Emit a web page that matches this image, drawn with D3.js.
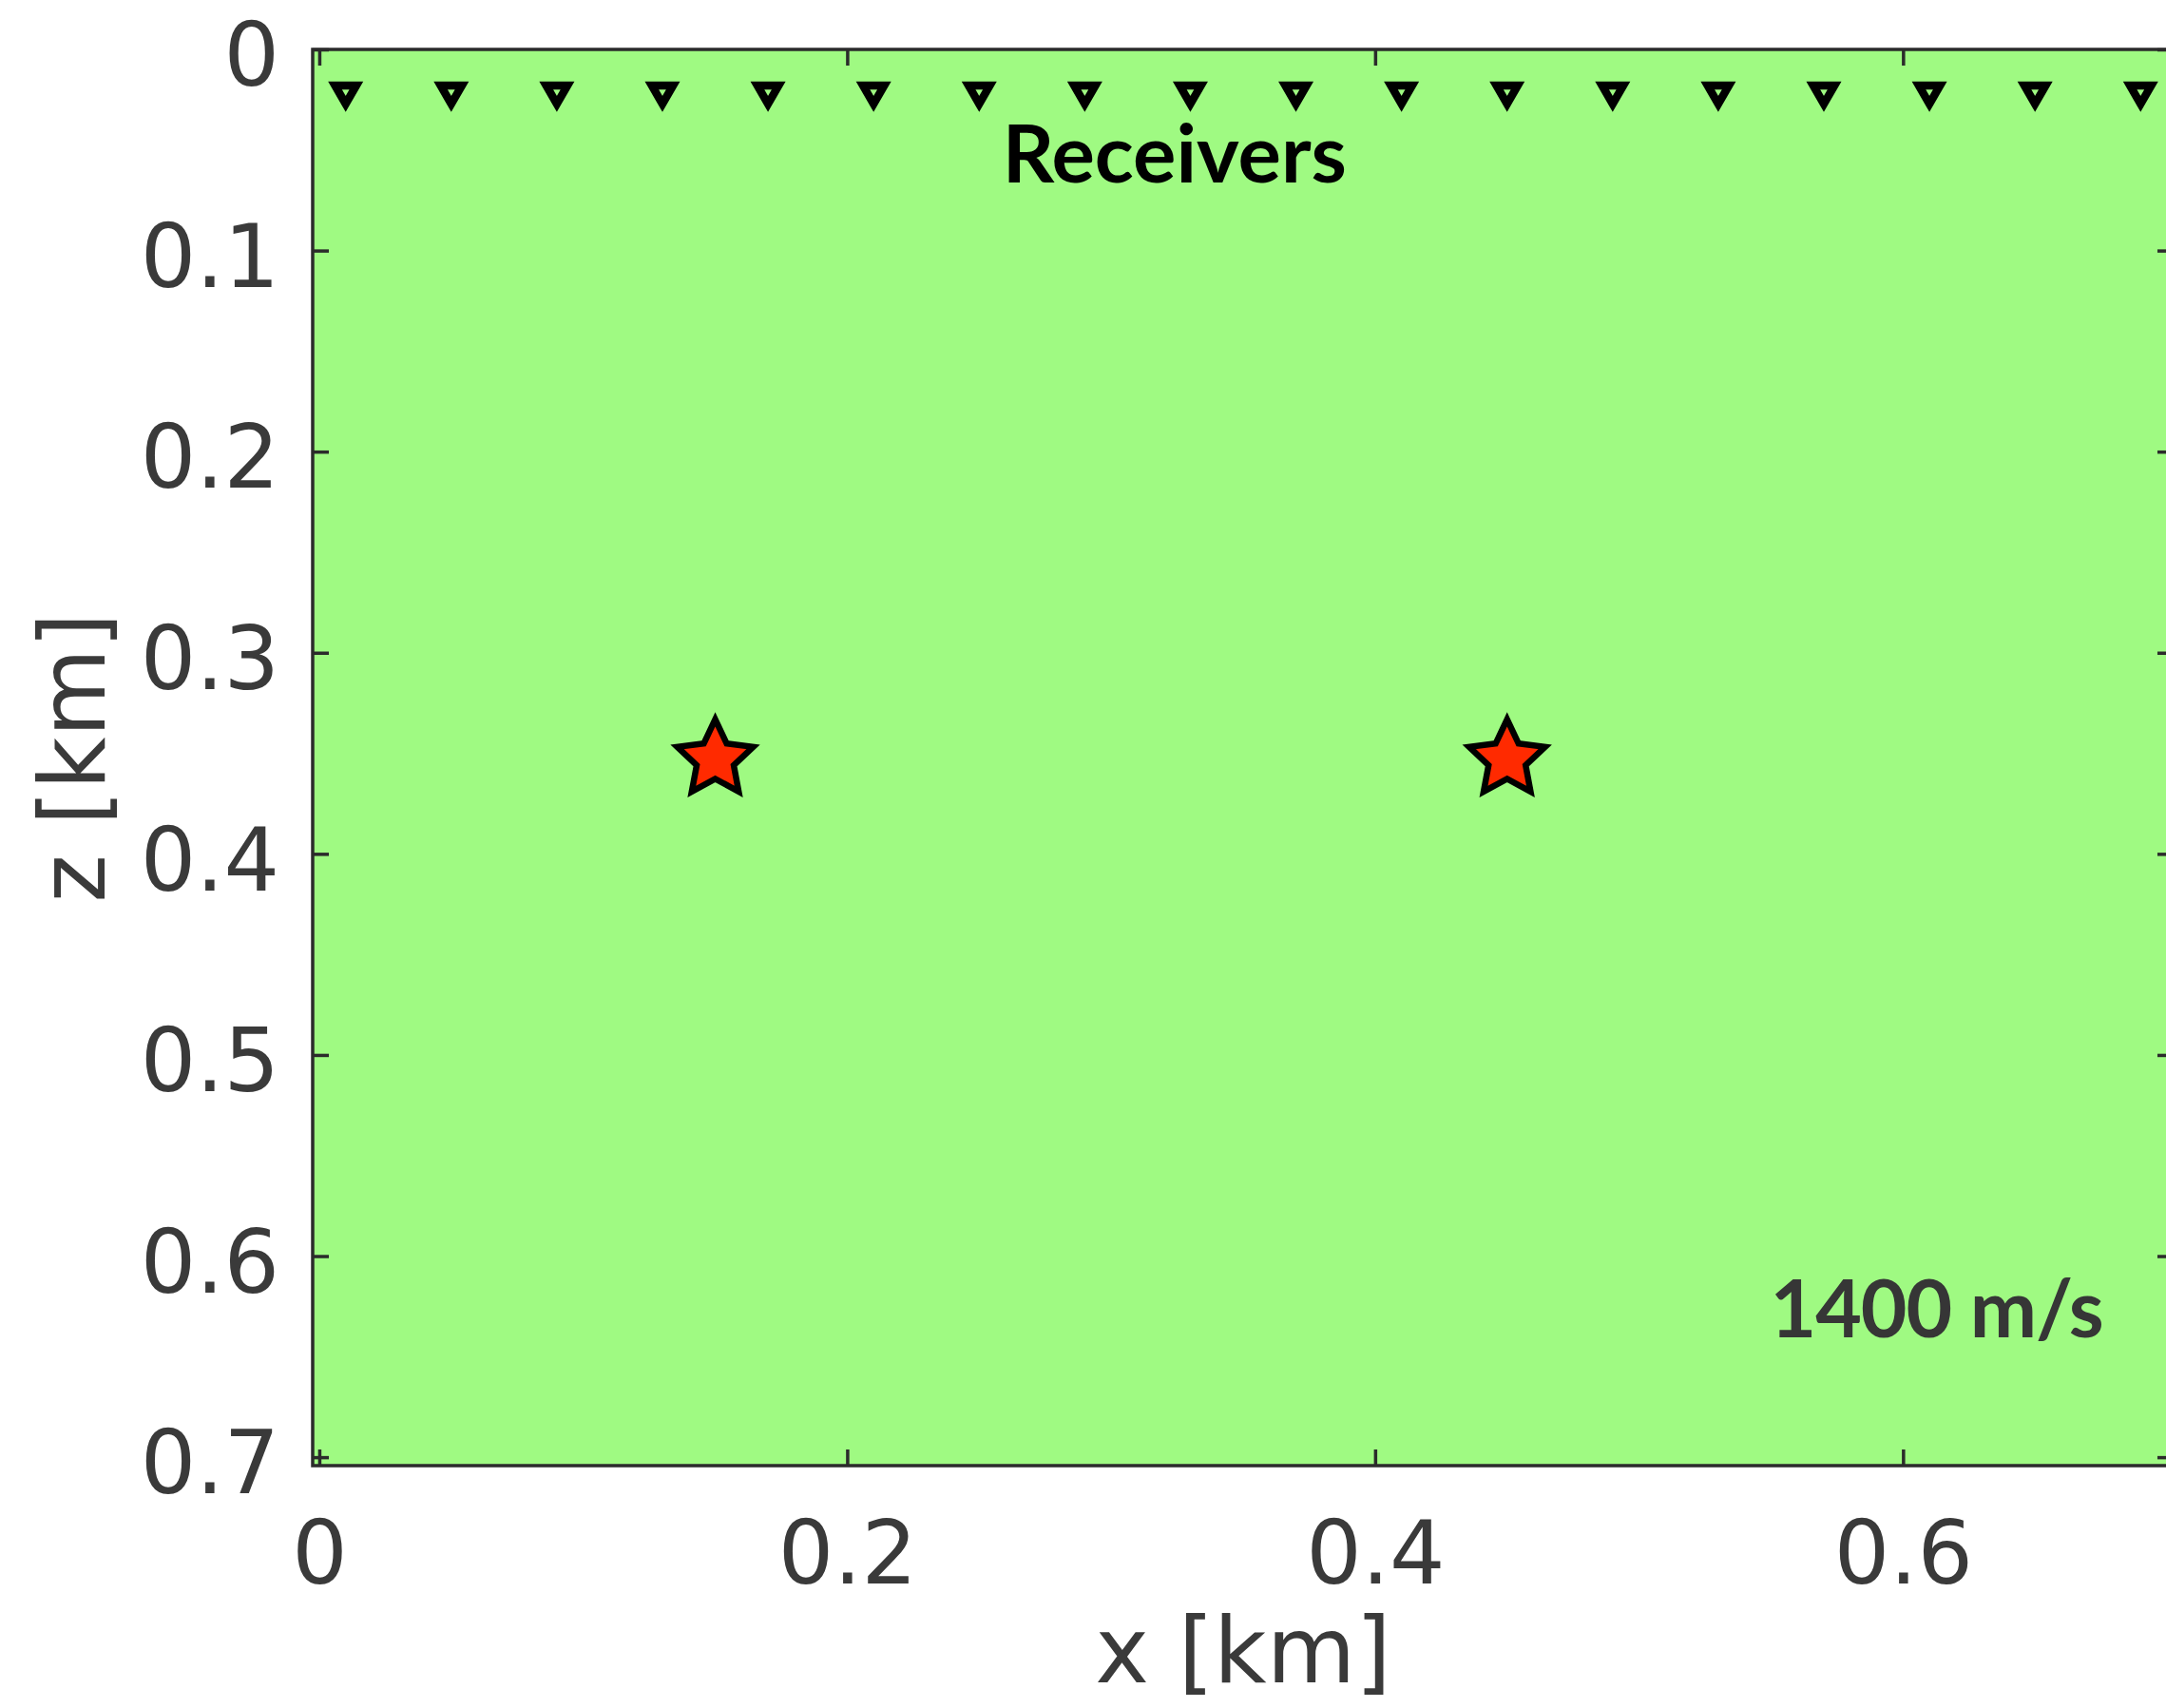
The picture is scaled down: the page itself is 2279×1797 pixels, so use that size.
<!DOCTYPE html>
<html>
<head>
<meta charset="utf-8">
<script src="https://cdn.jsdelivr.net/npm/d3@7"></script>
<style>
  html, body { margin: 0; padding: 0; background: #ffffff; }
  svg { display: block; }
</style>
</head>
<body>
<svg id="chart" width="2279" height="1797"></svg>
<script>
// Homogeneous velocity model: extent of the grid (km, cell-edge aligned)
const xExtent = [-0.0025, 0.7025];
const zExtent = [0, 0.7042];

// Axis ticks
const xTickValues = [0, 0.2, 0.4, 0.6];
const xTickLabels = ["0", "0.2", "0.4", "0.6"];
const zTickValues = [0, 0.1, 0.2, 0.3, 0.4, 0.5, 0.6, 0.7];
const zTickLabels = ["0", "0.1", "0.2", "0.3", "0.4", "0.5", "0.6", "0.7"];

// Receiver line near the surface (km)
const receiverX = [0.01, 0.05, 0.09, 0.13, 0.17, 0.21, 0.25, 0.29, 0.33,
                   0.37, 0.41, 0.45, 0.49, 0.53, 0.57, 0.61, 0.65, 0.69];
const receiverZ = [0.021, 0.021, 0.021, 0.021, 0.021, 0.021, 0.021, 0.021, 0.021,
                   0.021, 0.021, 0.021, 0.021, 0.021, 0.021, 0.021, 0.021, 0.021];

// Sources (km)
const sourceX = [0.15, 0.45];
const sourceZ = [0.35, 0.35];

// Medium velocity (m/s)
const velocity = 1400;

// Labels
const xAxisTitle = "x [km]";
const zAxisTitle = "z [km]";
const receiverTitle = "Receivers";

// ---- layout ----
const plot = { left: 329, right: 2287, top: 52, bottom: 1542 };
const axisColor = "#2b2b2b";
const labelColor = "#3a3a3a";
const tickLen = 17;

const svg = d3.select("#chart");

const x = d3.scaleLinear().domain(xExtent).range([plot.left, plot.right]);
const z = d3.scaleLinear().domain(zExtent).range([plot.top, plot.bottom]);

// velocity model (single constant layer)
svg.append("rect")
  .attr("x", x(xExtent[0]))
  .attr("y", z(zExtent[0]))
  .attr("width", x(xExtent[1]) - x(xExtent[0]))
  .attr("height", z(zExtent[1]) - z(zExtent[0]))
  .attr("fill", "#9ffa82");

// ---- axes (ticks point inward on all four sides) ----
function styleAxis(g) {
  g.select(".domain").remove();
  g.selectAll(".tick line").attr("stroke", axisColor).attr("stroke-width", 3.5);
  g.selectAll(".tick text")
    .attr("fill", labelColor)
    .style("font-family", "'DejaVu Sans', sans-serif")
    .style("font-size", "92px");
}

const bottomAxis = svg.append("g")
  .attr("transform", `translate(0,${plot.bottom})`)
  .call(d3.axisBottom(x).tickValues(xTickValues)
        .tickFormat((d, i) => xTickLabels[i])
        .tickSizeInner(-tickLen).tickSizeOuter(0))
  .call(styleAxis);
bottomAxis.selectAll(".tick text").attr("y", 124).attr("dy", null);

svg.append("g")
  .attr("transform", `translate(0,${plot.top})`)
  .call(d3.axisTop(x).tickValues(xTickValues).tickFormat("")
        .tickSizeInner(-tickLen).tickSizeOuter(0))
  .call(styleAxis);

const leftAxis = svg.append("g")
  .attr("transform", `translate(${plot.left},0)`)
  .call(d3.axisLeft(z).tickValues(zTickValues)
        .tickFormat((d, i) => zTickLabels[i])
        .tickSizeInner(-tickLen).tickSizeOuter(0))
  .call(styleAxis);
leftAxis.selectAll(".tick text").attr("x", -35).attr("dy", "0.41em");

svg.append("g")
  .attr("transform", `translate(${plot.right},0)`)
  .call(d3.axisRight(z).tickValues(zTickValues).tickFormat("")
        .tickSizeInner(-tickLen).tickSizeOuter(0))
  .call(styleAxis);

// axes box
svg.append("rect")
  .attr("x", plot.left).attr("y", plot.top)
  .attr("width", plot.right - plot.left).attr("height", plot.bottom - plot.top)
  .attr("fill", "none").attr("stroke", axisColor).attr("stroke-width", 3.5);

// axis titles
svg.append("text")
  .attr("x", (plot.left + plot.right) / 2)
  .attr("y", 1770)
  .attr("text-anchor", "middle")
  .attr("fill", labelColor)
  .style("font-family", "'DejaVu Sans', sans-serif")
  .style("font-size", "96px")
  .text(xAxisTitle);

svg.append("text")
  .attr("transform", `translate(110,${(plot.top + plot.bottom) / 2}) rotate(-90)`)
  .attr("text-anchor", "middle")
  .attr("fill", labelColor)
  .style("font-family", "'DejaVu Sans', sans-serif")
  .style("font-size", "96px")
  .text(zAxisTitle);

// ---- receivers: downward triangles ----
const receivers = receiverX.map((d, i) => ({ x: d, z: receiverZ[i] }));
const triangle = d3.symbol().type(d3.symbolTriangle).size(215)();
svg.append("g").selectAll("path")
  .data(receivers)
  .join("path")
  .attr("d", triangle)
  .attr("transform", d => `translate(${x(d.x)},${z(d.z)}) rotate(180)`)
  .attr("fill", "none")
  .attr("stroke", "#000000")
  .attr("stroke-width", 8.5)
  .attr("stroke-linejoin", "miter");

// ---- sources: red stars ----
function starPath(R, r) {
  const pts = [];
  for (let k = 0; k < 10; k++) {
    const a = -Math.PI / 2 + k * Math.PI / 5;
    const rad = k % 2 === 0 ? R : r;
    pts.push([rad * Math.cos(a), rad * Math.sin(a)]);
  }
  return d3.line()(pts) + "Z";
}
const starR = 42;
const sources = sourceX.map((d, i) => ({ x: d, z: sourceZ[i] }));
svg.append("g").selectAll("path")
  .data(sources)
  .join("path")
  .attr("d", starPath(starR, 20.5))
  .attr("transform", d => `translate(${x(d.x)},${z(d.z) + 0.15 * starR})`)
  .attr("fill", "#ff2a00")
  .attr("stroke", "#000000")
  .attr("stroke-width", 6.5)
  .attr("stroke-linejoin", "miter");

// ---- annotations ----
svg.append("text")
  .attr("x", x(0.324))
  .attr("y", z(0.0662))
  .attr("text-anchor", "middle")
  .attr("fill", "#000000")
  .style("font-family", "Lato, 'Open Sans', sans-serif")
  .style("font-weight", 700)
  .style("font-size", "85px")
  .text(receiverTitle);

svg.append("text")
  .attr("x", x(0.6127))
  .attr("y", z(0.6404))
  .attr("text-anchor", "middle")
  .attr("fill", "#363636")
  .style("font-family", "Lato, 'Open Sans', sans-serif")
  .style("font-weight", 700)
  .style("font-size", "84px")
  .style("letter-spacing", "-1px")
  .text(`${velocity} m/s`);
</script>
</body>
</html>
